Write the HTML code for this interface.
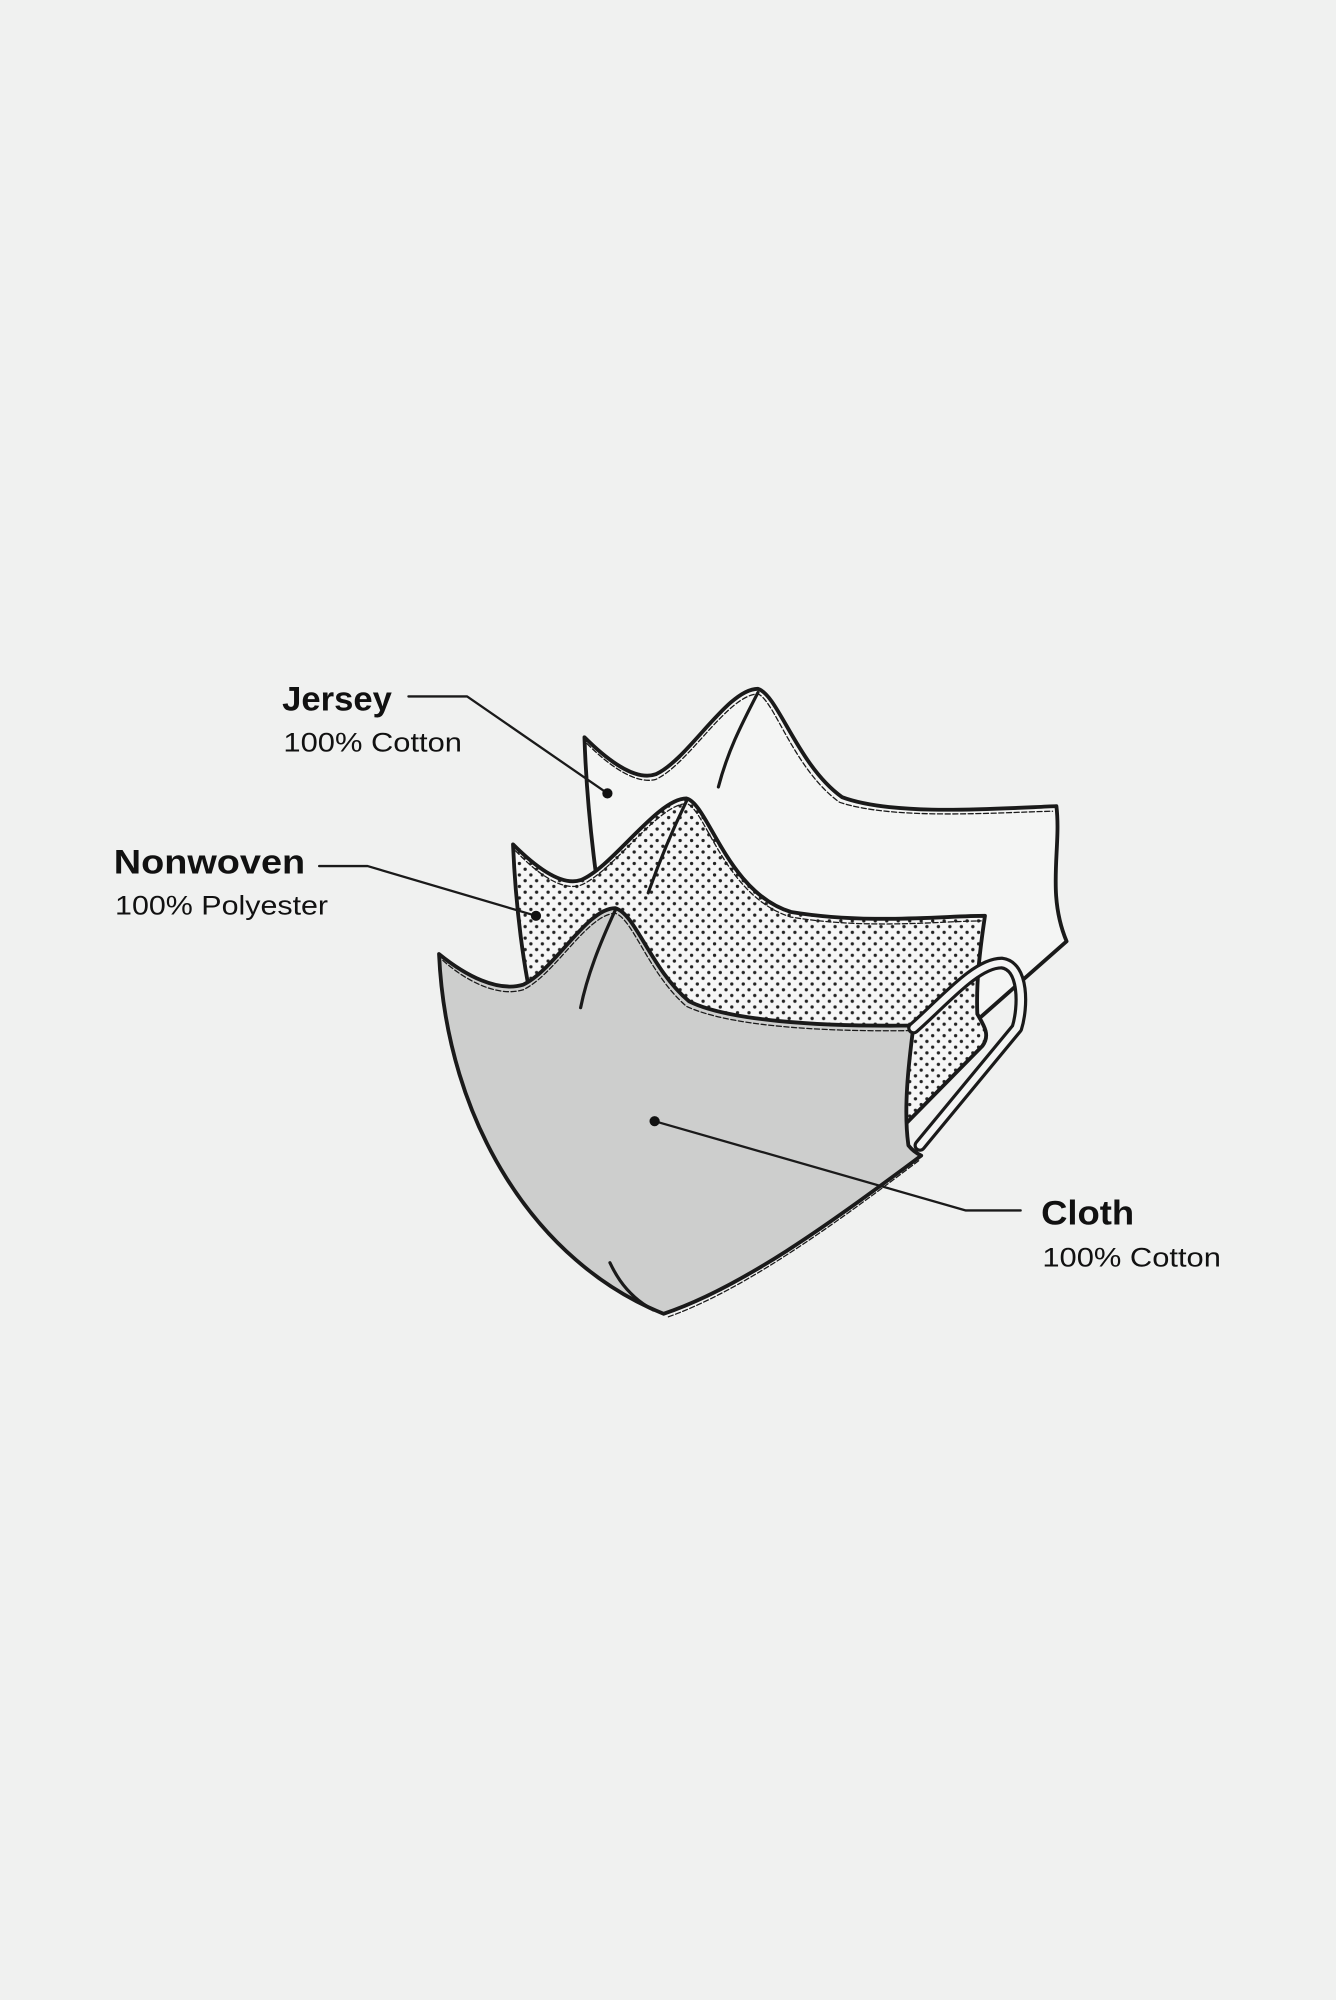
<!DOCTYPE html>
<html><head><meta charset="utf-8"><style>
html,body{margin:0;padding:0;background:#f0f1f0;}
svg{display:block}
text{font-family:"Liberation Sans",sans-serif;fill:#111}
</style></head><body>
<svg width="1336" height="2000" viewBox="0 0 1047 1568" xmlns="http://www.w3.org/2000/svg">
<defs>
<pattern id="dots" width="9" height="9" patternUnits="userSpaceOnUse">
<rect width="9" height="9" fill="#f6f6f6"/>
<circle cx="2" cy="2" r="1.3" fill="#222"/>
<circle cx="6.5" cy="6.5" r="1.3" fill="#222"/>
</pattern>
</defs>
<rect width="1047" height="1568" fill="#f0f1f0"/>
<g stroke="#1a1a1a" stroke-linejoin="round" stroke-linecap="round" fill="none">
<!-- Jersey -->
<path d="M458,578 C480,600 500,612 514,607 C540,595 570,540 594,540 C610,545 625,600 660,625 C700,640 780,634 828,632 C832,665 820,700 836,738 L768,798 L480,770 C468,700 460,640 458,578Z" fill="#f4f5f4" stroke-width="3"/>
<path d="M460,583 C480,603 500,615 514,611 C540,599 570,545 594,544 C607,549 622,603 658,629 C700,643 780,637 825,636" stroke-width="1" stroke-dasharray="4 2"/>
<path d="M594,543 C580,570 570,590 563,617" stroke-width="2.5"/>
<!-- Nonwoven -->
<path d="M402,662 C420,680 440,695 455,690 C480,680 515,626 538,626 C555,630 570,700 620,715 C680,725 740,718 772,718 C768,745 765,770 766,795 C772,805 776,812 770,820 L711,880 L420,800 C410,760 404,710 402,662Z" fill="url(#dots)" stroke-width="3"/>
<path d="M404,667 C420,684 440,699 455,694 C480,684 515,631 538,630 C553,634 568,703 620,719 C680,729 740,722 769,722" stroke-width="1" stroke-dasharray="4 2"/>
<path d="M538,628 C525,655 515,680 508,700" stroke-width="2.5"/>
<!-- Cloth -->
<path d="M344,748 C365,765 390,778 410,772 C435,760 460,712 482,712 C498,716 510,760 540,785 C570,800 640,805 716,804 C712,835 708,870 712,898 C716,903 720,905 722,906 C650,960 580,1010 520,1030 C420,990 350,880 344,748Z" fill="#cdcecd" stroke-width="3"/>
<path d="M347,753 C365,769 390,782 410,776 C435,764 460,717 482,716 C496,720 508,763 538,789 C570,804 640,809 713,808" stroke-width="1" stroke-dasharray="4 2"/>
<path d="M720,910 C650,963 580,1013 522,1033" stroke-width="1" stroke-dasharray="4 2"/>
<path d="M482,714 C470,740 460,765 455,790" stroke-width="2.5"/>
<path d="M478,990 C485,1005 495,1018 512,1027" stroke-width="2.5"/>
<!-- Ear loop -->
<path d="M716,806 C740,785 765,755 785,755 C803,757 802,790 797,806 L721,898" stroke-width="10"/>
<path d="M716,806 C740,785 765,755 785,755 C803,757 802,790 797,806 L721,898" stroke="#f4f5f4" stroke-width="5"/>
<!-- Leaders -->
<path d="M320,546 L366,546 L476,622" stroke-width="1.8"/>
<path d="M250,679 L288,679 L420,718" stroke-width="1.8"/>
<path d="M513,879 L757,949 L800,949" stroke-width="1.8"/>
</g>
<circle cx="476" cy="622" r="4" fill="#111"/>
<circle cx="420" cy="718" r="4" fill="#111"/>
<circle cx="513" cy="879" r="4" fill="#111"/>
<text x="221" y="557" font-size="27" font-weight="bold" textLength="86" lengthAdjust="spacingAndGlyphs">Jersey</text>
<text x="222" y="589" font-size="21" textLength="140" lengthAdjust="spacingAndGlyphs">100% Cotton</text>
<text x="89" y="685" font-size="27" font-weight="bold" textLength="150" lengthAdjust="spacingAndGlyphs">Nonwoven</text>
<text x="90" y="717" font-size="21" textLength="167" lengthAdjust="spacingAndGlyphs">100% Polyester</text>
<text x="816" y="960" font-size="27" font-weight="bold" textLength="73" lengthAdjust="spacingAndGlyphs">Cloth</text>
<text x="817" y="993" font-size="21" textLength="140" lengthAdjust="spacingAndGlyphs">100% Cotton</text>
</svg>
</body></html>
